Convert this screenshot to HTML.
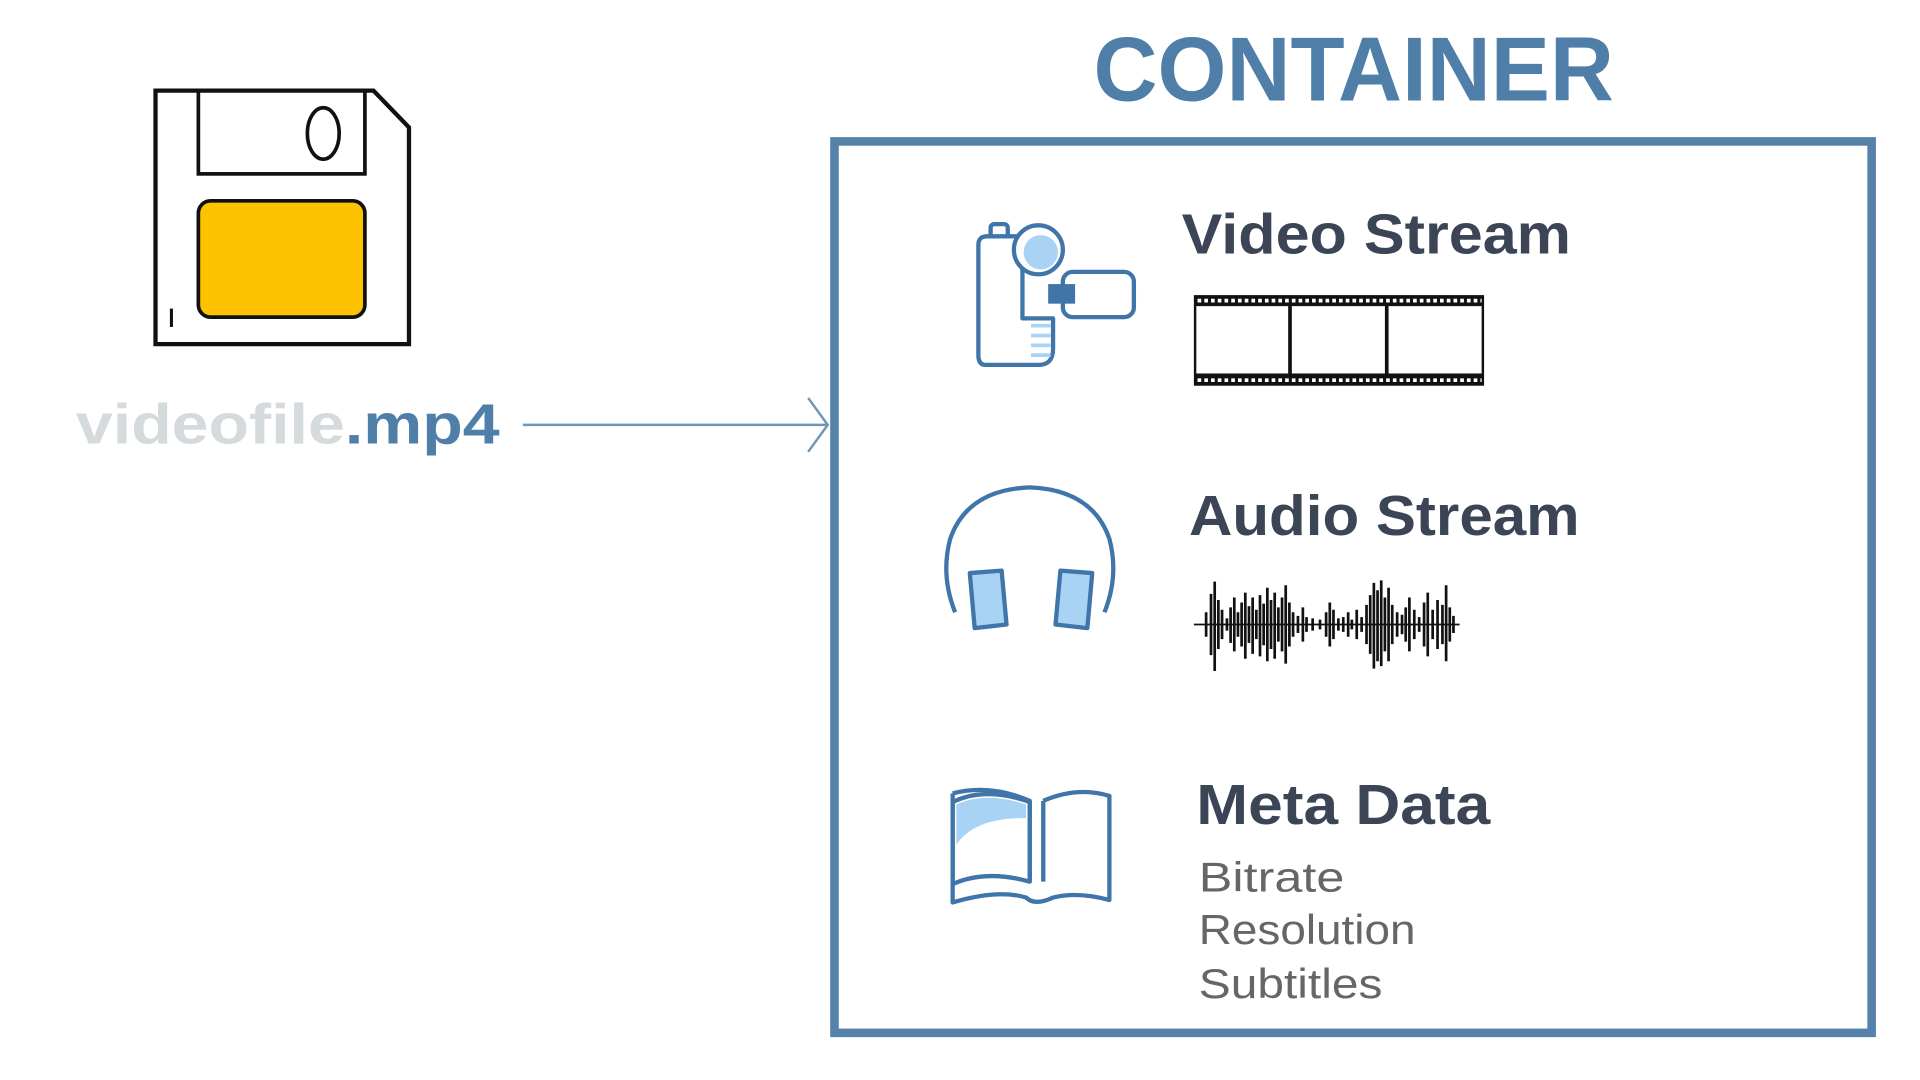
<!DOCTYPE html>
<html><head><meta charset="utf-8"><style>html,body{margin:0;padding:0;background:#fff;width:1920px;height:1080px;overflow:hidden}svg{display:block}</style></head>
<body>
<svg width="1920" height="1080" viewBox="0 0 1568 882" preserveAspectRatio="none" font-family="Liberation Sans, sans-serif">
<rect x="0" y="0" width="1568" height="882" fill="#fff"/>
<!-- CONTAINER -->
<text x="893" y="82" font-size="74" font-weight="bold" fill="#4f7fa8" textLength="425" lengthAdjust="spacingAndGlyphs">CONTAINER</text>
<rect x="681.5" y="115.5" width="847" height="728" fill="none" stroke="#5482ab" stroke-width="7"/>
<!-- floppy -->
<path d="M127 74 H305 L334 104 V281 H127 Z" fill="#fff" stroke="#111" stroke-width="3.5"/>
<rect x="162" y="74" width="136" height="68" fill="none" stroke="#111" stroke-width="3"/>
<ellipse cx="264" cy="109" rx="13" ry="21" fill="none" stroke="#111" stroke-width="3"/>
<rect x="162" y="164" width="136" height="95" rx="10" fill="#fdc300" stroke="#111" stroke-width="3"/>
<line x1="140" y1="252" x2="140" y2="267" stroke="#111" stroke-width="2.5"/>
<!-- filename -->
<text x="62" y="362" font-size="46" font-weight="bold" textLength="346" lengthAdjust="spacingAndGlyphs"><tspan fill="#d5dadd">videofile</tspan><tspan fill="#4f7fa8">.mp4</tspan></text>
<line x1="427" y1="347" x2="675" y2="347" stroke="#6f95b8" stroke-width="2"/>
<path d="M660 325 L676 347 L660 369" fill="none" stroke="#6f95b8" stroke-width="2"/>
<!-- camera -->
<g stroke="#3f75a8" stroke-width="3.5" fill="none" stroke-linejoin="round">
<rect x="809" y="183" width="14" height="12" rx="3"/>
<path d="M799 200 Q799 193 806 193 H835 V260 H860 V285 Q860 298 848 298 H805 Q799 298 799 290 Z" fill="#fff"/>
<circle cx="848" cy="204" r="20" fill="#fff"/>
<circle cx="850" cy="206" r="14" fill="#a9d3f5" stroke="none"/>
<rect x="868" y="222" width="58" height="37" rx="8" fill="#fff"/>
<rect x="856" y="232" width="22" height="16" fill="#3f75a8" stroke="none"/>
<path d="M842 266 H858 M842 274 H858 M842 282 H858 M842 290 H858" stroke="#a9d3f5" stroke-width="3"/>
</g>
<text x="965" y="207" font-size="46" font-weight="bold" fill="#3c4555" textLength="318" lengthAdjust="spacingAndGlyphs">Video Stream</text>
<!-- film -->
<rect x="975" y="241" width="237" height="74" fill="#111"/>
<rect x="977" y="250" width="75" height="55" fill="#fff"/>
<rect x="1055" y="250" width="76" height="55" fill="#fff"/>
<rect x="1134" y="250" width="76" height="55" fill="#fff"/>
<line x1="978" y1="245.5" x2="1210" y2="245.5" stroke="#fff" stroke-width="3" stroke-dasharray="3 2.5"/>
<line x1="978" y1="310.5" x2="1210" y2="310.5" stroke="#fff" stroke-width="3" stroke-dasharray="3 2.5"/>
<!-- headphones -->
<g stroke="#3f75a8" stroke-width="3.5" fill="none" stroke-linejoin="round">
<path d="M780 500 Q768 470 776 440 Q790 400 841 398 Q892 400 906 440 Q914 470 902 500"/>
<path d="M792 468 L818 466 L822 510 L796 513 Z" fill="#a9d3f5"/>
<path d="M866 466 L892 468 L888 513 L862 510 Z" fill="#a9d3f5"/>
</g>
<text x="971" y="437" font-size="46" font-weight="bold" fill="#3c4555" textLength="319" lengthAdjust="spacingAndGlyphs">Audio Stream</text>
<!-- waveform -->
<path d="M975 510 H1192" stroke="#111" stroke-width="1.5"/>
<path stroke="#111" stroke-width="2.2" d="M985 500V520 M989 485V535 M992 475V548 M995 490V530 M998 498V522 M1002 505V515 M1005 496V525 M1008 488V532 M1011 500V520 M1014 492V528 M1017 484V538 M1020 495V525 M1023 488V534 M1026 498V522 M1029 486V536 M1032 493V527 M1035 480V540 M1038 490V530 M1041 484V538 M1044 496V524 M1047 488V532 M1050 478V542 M1053 492V528 M1056 500V520 M1060 503V517 M1064 496V524 M1067 504V516 M1072 505V515 M1078 506V514 M1083 500V520 M1086 492V528 M1089 498V522 M1093 505V515 M1097 504V516 M1101 500V520 M1104 506V514 M1108 498V522 M1112 504V516 M1116 494V526 M1119 486V534 M1122 476V546 M1125 482V540 M1128 474V544 M1131 488V532 M1134 480V540 M1137 494V526 M1141 500V520 M1145 502V518 M1148 496V524 M1151 488V532 M1155 498V522 M1159 504V516 M1163 492V528 M1166 484V536 M1170 498V522 M1174 490V530 M1178 494V526 M1181 478V540 M1184 496V524 M1187 503V517"/>
<!-- book -->
<g stroke="#3f75a8" stroke-width="3.5" fill="none" stroke-linejoin="round">
<path d="M778 655 Q805 642 841 655 V720 Q805 710 778 722 Z" fill="#fff"/>
<path d="M781 690 Q795 668 838 668 V657 Q805 646 781 657 Z" fill="#a9d3f5" stroke="none"/>
<path d="M778 648 Q808 640 841 654 V720 M852 654 Q880 642 906 650 V735 Q880 728 860 733 Q845 740 838 733 Q815 726 778 737 V648"/>
<path d="M852 654 V720"/>
</g>
<text x="977" y="673" font-size="46" font-weight="bold" fill="#3c4555" textLength="240" lengthAdjust="spacingAndGlyphs">Meta Data</text>
<text x="979" y="728" font-size="34" fill="#666" textLength="119" lengthAdjust="spacingAndGlyphs">Bitrate</text>
<text x="979" y="771" font-size="34" fill="#666" textLength="177" lengthAdjust="spacingAndGlyphs">Resolution</text>
<text x="979" y="815" font-size="34" fill="#666" textLength="150" lengthAdjust="spacingAndGlyphs">Subtitles</text>
</svg>
</body></html>
